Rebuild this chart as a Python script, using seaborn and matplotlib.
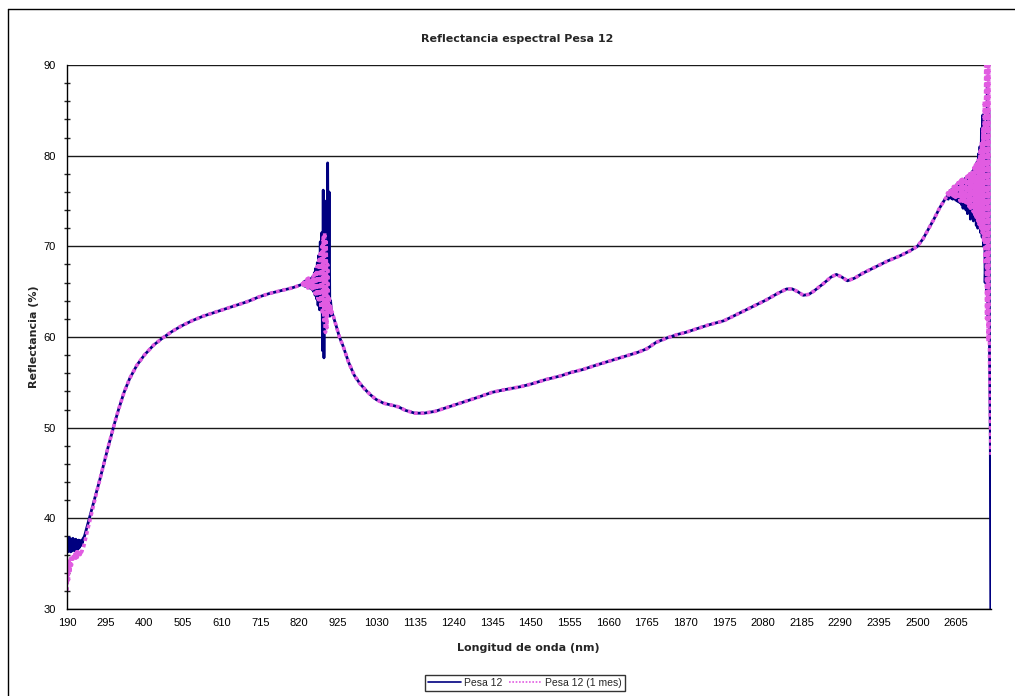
import numpy as np
import pandas as pd
import matplotlib
matplotlib.use("Agg")
import matplotlib.pyplot as plt
from matplotlib.ticker import MultipleLocator, FixedLocator
from matplotlib.lines import Line2D
import seaborn as sns

# ---------------- data ----------------
# segment A: UV start (noisy)
wl_a = list(range(190, 240, 2))
pesa_a = [37.6, 36.3, 37.9, 36.4, 37.8, 36.3, 37.7, 36.4, 37.8, 36.5, 37.6, 36.4, 37.7,
          36.6, 37.5, 36.6, 37.6, 36.8, 37.5, 37.0, 37.6, 37.3, 37.8, 37.9, 38.1]
mes_a = [32.0, 34.8, 33.2, 35.3, 34.0, 35.6, 34.8, 35.9, 35.3, 36.1, 35.5, 36.2, 35.6,
         36.3, 35.7, 36.3, 35.8, 36.4, 36.0, 36.5, 36.3, 36.6, 36.7, 37.0, 37.3]

# segment B: smooth rise
wl_b = [240, 250, 260, 270, 280, 290, 300, 310, 320, 330, 345, 360, 380, 400, 425, 450,
        475, 500, 530, 560, 590, 620, 650, 680, 710, 740, 770, 800, 815, 828]
pesa_b = [38.4, 39.9, 41.4, 42.9, 44.4, 46.0, 47.6, 49.1, 50.6, 52.0, 53.9, 55.4, 56.9,
          58.0, 59.1, 59.9, 60.6, 61.2, 61.8, 62.3, 62.7, 63.1, 63.5, 63.9, 64.4, 64.8,
          65.1, 65.4, 65.6, 65.8]
mes_b = [37.7, 39.4, 41.1, 42.8, 44.4, 46.0, 47.6, 49.1, 50.6, 52.0, 53.9, 55.4, 56.9,
         58.0, 59.1, 59.9, 60.6, 61.2, 61.8, 62.3, 62.7, 63.1, 63.5, 63.9, 64.4, 64.8,
         65.1, 65.4, 65.6, 65.8]

# segment C: detector change noise (~830-910 nm)
wl_c = list(range(830, 912, 2))
pesa_c = [65.9, 65.7, 66.1, 65.6, 66.2, 65.6, 66.3, 65.5, 66.4, 65.4,
          66.1, 65.4, 66.5, 65.2, 66.7, 65.0, 67.1, 64.6, 67.6, 64.2,
          68.2, 63.5, 69.0, 63.0, 70.5, 63.0, 71.5, 58.5, 76.2, 57.7,
          72.0, 61.0, 75.0, 64.0, 79.2, 63.5, 76.0, 62.3, 64.0, 63.0, 62.7]
mes_c = [65.9, 65.6, 66.2, 65.5, 66.3, 65.5, 66.4, 65.4, 66.5, 65.3,
         66.0, 65.5, 66.4, 65.3, 66.6, 65.2, 66.9, 64.8, 67.3, 64.5,
         67.8, 64.2, 68.5, 63.8, 69.2, 63.2, 70.0, 62.5, 71.0, 61.8,
         71.5, 60.5, 70.5, 61.0, 68.0, 62.5, 64.5, 63.0, 63.6, 62.6, 62.8]

# segment D: NIR smooth part
wl_d = [920, 930, 940, 955, 970, 985, 1000, 1015, 1030, 1050, 1070, 1090, 1110, 1135,
        1160, 1190, 1220, 1250, 1280, 1310, 1345, 1380, 1420, 1450, 1490, 1530, 1560,
        1590, 1620, 1660, 1700, 1740, 1765, 1790, 1820, 1850, 1870, 1900, 1930, 1975,
        2000, 2030, 2060, 2090, 2120, 2145, 2160, 2175, 2190, 2205, 2220, 2245, 2265,
        2280, 2295, 2310, 2330, 2350, 2370, 2395, 2420, 2450, 2480, 2500, 2515, 2530,
        2545, 2560, 2575]
pesa_d = [61.4, 60.0, 59.0, 57.2, 55.8, 54.9, 54.2, 53.6, 53.1, 52.7, 52.5, 52.3, 51.9,
          51.6, 51.6, 51.8, 52.2, 52.6, 53.0, 53.4, 53.9, 54.2, 54.5, 54.8, 55.3, 55.7,
          56.1, 56.4, 56.8, 57.3, 57.8, 58.3, 58.7, 59.4, 59.9, 60.3, 60.5, 60.9, 61.3,
          61.8, 62.3, 62.9, 63.5, 64.1, 64.8, 65.3, 65.3, 65.0, 64.6, 64.7, 65.1, 65.9,
          66.6, 66.9, 66.6, 66.2, 66.5, 67.0, 67.4, 67.9, 68.4, 68.9, 69.5, 70.0, 70.8,
          71.9, 73.0, 74.2, 75.2]
mes_d = [61.4, 60.0, 59.0, 57.2, 55.8, 54.9, 54.2, 53.6, 53.1, 52.7, 52.5, 52.3, 51.9,
         51.6, 51.6, 51.8, 52.2, 52.6, 53.0, 53.4, 53.9, 54.2, 54.5, 54.8, 55.3, 55.7,
         56.1, 56.4, 56.8, 57.3, 57.8, 58.3, 58.7, 59.4, 59.9, 60.3, 60.5, 60.9, 61.3,
         61.8, 62.3, 62.9, 63.5, 64.1, 64.8, 65.3, 65.3, 65.0, 64.6, 64.7, 65.1, 65.9,
         66.6, 66.9, 66.6, 66.2, 66.5, 67.0, 67.4, 67.9, 68.4, 68.9, 69.5, 70.0, 70.8,
         71.9, 73.0, 74.2, 75.2]

# segment E: noisy end of the spectrum
wl_e = list(range(2580, 2702, 2))
pesa_e = [75.3, 75.8, 75.2, 76.0, 75.4, 76.2, 75.3, 76.3, 75.2, 76.5,
          75.3, 76.6, 75.1, 76.8, 75.0, 76.9, 74.9, 77.0, 74.8, 77.2,
          74.6, 77.3, 74.2, 77.4, 74.3, 77.5, 74.0, 77.6, 73.6, 77.7,
          73.8, 77.9, 73.0, 78.1, 73.4, 78.3, 72.8, 78.6, 73.0, 78.9,
          72.3, 79.3, 72.0, 80.2, 72.4, 81.0, 71.5, 83.0, 71.0, 84.5,
          70.0, 82.0, 66.0, 69.0, 65.0, 88.0, 62.0, 85.0, 58.0, 50.0, 20.0]
mes_e = [75.5, 75.9, 75.4, 76.1, 75.6, 76.3, 75.5, 76.4, 75.6, 76.6,
         75.5, 76.7, 75.4, 76.9, 75.3, 77.0, 75.2, 77.1, 75.0, 77.3,
         74.9, 77.4, 74.8, 77.5, 74.7, 77.6, 74.6, 77.7, 74.5, 77.8,
         74.4, 78.0, 74.2, 78.2, 74.0, 78.4, 73.8, 78.7, 73.5, 79.0,
         73.2, 79.4, 72.8, 79.8, 72.4, 80.5, 72.0, 81.5, 71.5, 83.0,
         70.5, 86.0, 68.0, 95.0, 62.0, 95.0, 59.5, 95.0, 58.0, 52.0, 47.0]

x_ticks = [190, 295, 400, 505, 610, 715, 820, 925, 1030, 1135, 1240, 1345, 1450, 1555,
           1660, 1765, 1870, 1975, 2080, 2185, 2290, 2395, 2500, 2605]

title = "Reflectancia espectral Pesa 12"
xlabel = "Longitud de onda (nm)"
ylabel = "Reflectancia (%)"
series_names = ["Pesa 12", "Pesa 12 (1 mes)"]

wl = wl_a + wl_b + wl_c + wl_d + wl_e
pesa = pesa_a + pesa_b + pesa_c + pesa_d + pesa_e
mes = mes_a + mes_b + mes_c + mes_d + mes_e
df = pd.DataFrame({"wl": wl, "pesa": pesa, "mes": mes})

# ---------------- figure ----------------
sns.set_style("white")
plt.rcParams["font.family"] = ["Liberation Sans", "DejaVu Sans"]

W, H = 1015, 696
fig = plt.figure(figsize=(W / 100, H / 100), dpi=100)
fig.patch.set_facecolor("white")
ax = fig.add_axes([67 / W, 1 - 609 / H, (991 - 67) / W, (609 - 65) / H])

navy = "#000080"
pink = "#E15CE1"

sns.lineplot(data=df, x="wl", y="pesa", sort=False, estimator=None, ax=ax,
             color=navy, linewidth=2.0)
sns.lineplot(data=df, x="wl", y="mes", sort=False, estimator=None, ax=ax,
             color=pink, linewidth=2.6, linestyle=(0, (1, 0.8)))

ax.set_xlim(190, 2700)
ax.set_ylim(30, 90)
ax.xaxis.set_major_locator(FixedLocator(x_ticks))
ax.set_xticklabels([str(t) for t in x_ticks])
ax.yaxis.set_major_locator(MultipleLocator(10))
ax.yaxis.set_minor_locator(MultipleLocator(2))
ax.yaxis.grid(True, which="major", color="#1a1a1a", linewidth=1.0)
ax.set_axisbelow(True)

for s in ["top", "right"]:
    ax.spines[s].set_visible(False)
for s in ["left", "bottom"]:
    ax.spines[s].set_color("black")
    ax.spines[s].set_linewidth(1.0)

ax.tick_params(axis="x", which="major", direction="inout", length=7, width=1,
               labelsize=8, pad=3, colors="black")
ax.tick_params(axis="y", which="major", direction="out", length=5, width=1,
               labelsize=8, pad=3, colors="black")
ax.tick_params(axis="y", which="minor", direction="inout", length=4, width=1, left=True)
ax.set_xlabel("")
ax.set_ylabel("")

bold = dict(family="DejaVu Sans", fontweight="bold", fontsize=8)
fig.text(517 / W, 1 - 39 / H, title, ha="center", va="center", **bold)
fig.text(528 / W, 1 - 648 / H, xlabel, ha="center", va="center", **bold)
fig.text(34 / W, 1 - 337 / H, ylabel, ha="center", va="center", rotation=90, **bold)

handles = [Line2D([], [], color=navy, linewidth=1.2),
           Line2D([], [], color=pink, linewidth=1.2, linestyle=(0, (1, 1)))]
leg = fig.legend(handles, series_names, loc="center", bbox_to_anchor=(525 / W, 1 - 683 / H),
                 ncol=2, frameon=True, fancybox=False, edgecolor="black", fontsize=7.5,
                 handlelength=3.2, handletextpad=0.3, columnspacing=0.6, borderpad=0.25,
                 borderaxespad=0)
leg.get_frame().set_linewidth(1.0)

# chart-area border (left and top edges visible in the reference)
fig.add_artist(Line2D([8 / W, 8 / W], [0, 1 - 9 / H], transform=fig.transFigure,
                      color="black", linewidth=1.0))
fig.add_artist(Line2D([8 / W, 1], [1 - 9 / H, 1 - 9 / H], transform=fig.transFigure,
                      color="black", linewidth=1.0))

fig.savefig("out.png", dpi=100)
